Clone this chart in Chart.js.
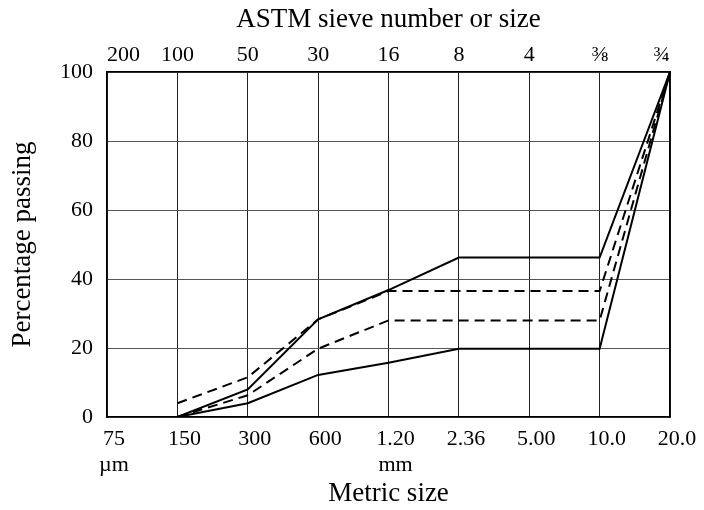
<!DOCTYPE html>
<html>
<head>
<meta charset="utf-8">
<script src="https://cdn.jsdelivr.net/npm/chart.js@4/dist/chart.umd.min.js"></script>
<style>
  body { margin: 0; background: #fff; }
  #wrap { width: 704px; height: 510px; }
</style>
</head>
<body>
<div id="wrap"><canvas id="c" width="704" height="510"></canvas></div>
<script>
// metric sizes (bottom axis) and ASTM sieve numbers (top axis)
const metricSizes = [["75", "\u00b5m"], "150", "300", "600", ["1.20", "mm"], "2.36", "5.00", "10.0", "20.0"];
const sieveNumbers = ["200", "100", "50", "30", "16", "8", "4", "\u215c", "\u00be"];

// percentage passing
const upperSolid = [null, 0, 8, 28.3, 36.8, 46.2, 46.2, 46.2, 100];
const upperDashed = [null, 4, 11.5, 28.3, 36.5, 36.5, 36.5, 36.5, 100];
const lowerDashed = [null, 0, 6.3, 19.8, 28, 28, 28, 28, 100];
const lowerSolid = [null, 0, 4, 12.2, 15.7, 19.8, 19.8, 19.8, 100];

const serif = "'Liberation Serif', 'Times New Roman', serif";

function line(data, dash) {
  return {
    data: data,
    borderColor: "#000",
    borderWidth: 2,
    borderDash: dash,
    pointRadius: 0,
    fill: false,
    tension: 0,
    xAxisID: "x",
  };
}

new Chart(document.getElementById("c"), {
  type: "line",
  data: {
    labels: metricSizes,
    datasets: [
      line(upperSolid, []),
      line(upperDashed, [10, 6]),
      line(lowerDashed, [10, 6]),
      line(lowerSolid, []),
    ],
  },
  options: {
    responsive: false,
    animation: false,
    layout: { padding: 0 },
    plugins: {
      legend: { display: false },
      tooltip: { enabled: false },
    },
    scales: {
      x: {
        type: "category",
        position: "bottom",
        offset: false,
        afterFit: (s) => { s.height = 93; },
        grid: { color: "#222", lineWidth: 1, drawTicks: false },
        border: { color: "#000", width: 1.5 },
        ticks: {
          color: "#000",
          font: { family: serif, size: 22, lineHeight: 1.15 },
          padding: 10,
          labelOffset: 7,
          maxRotation: 0,
          autoSkip: false,
        },
        title: {
          display: true,
          text: "Metric size",
          color: "#000",
          font: { family: serif, size: 27 },
          padding: { top: 0, bottom: 0 },
        },
      },
      x2: {
        type: "category",
        position: "top",
        labels: sieveNumbers,
        offset: false,
        afterFit: (s) => { s.height = 72; },
        grid: { display: false, drawTicks: false },
        border: { color: "#000", width: 1.5 },
        ticks: {
          color: "#000",
          font: { family: serif, size: 22 },
          padding: 4,
          align: "inner",
          maxRotation: 0,
          autoSkip: false,
        },
        title: {
          display: true,
          text: "ASTM sieve number or size",
          color: "#000",
          font: { family: serif, size: 27 },
          padding: { top: 4, bottom: 0 },
        },
      },
      y: {
        min: 0,
        max: 100,
        afterFit: (s) => { s.width = 107; },
        grid: { color: "#555", lineWidth: 1, drawTicks: false },
        border: { color: "#000", width: 1.5 },
        ticks: {
          stepSize: 20,
          color: "#000",
          font: { family: serif, size: 22 },
          padding: 14,
        },
        title: {
          display: true,
          text: "Percentage passing",
          color: "#000",
          font: { family: serif, size: 27 },
          padding: { top: 7, bottom: 0 },
        },
      },
      y2: {
        position: "right",
        min: 0,
        max: 100,
        afterFit: (s) => { s.width = 34; },
        grid: { display: false, drawTicks: false },
        border: { color: "#000", width: 1.5 },
        ticks: { display: false },
      },
    },
  },
});
</script>
</body>
</html>
